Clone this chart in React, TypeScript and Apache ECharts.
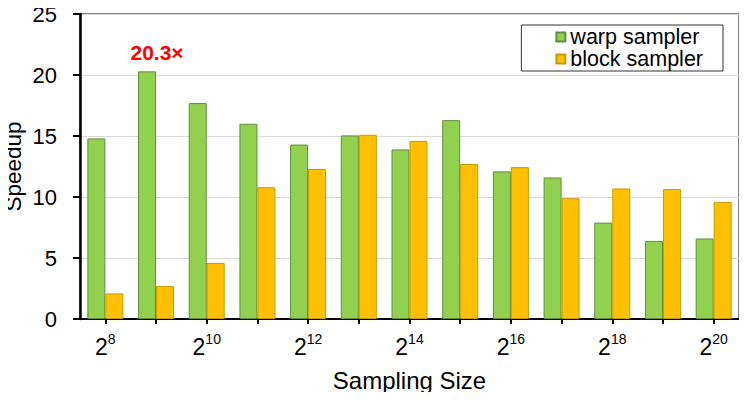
import React, { useEffect, useRef } from "react";
import * as echarts from "echarts";

const exponents = [8, 9, 10, 11, 12, 13, 14, 15, 16, 17, 18, 19, 20];
const categories = exponents.map((e) => `2^${e}`);
const warpSampler = [14.8, 20.3, 17.7, 16.0, 14.3, 15.05, 13.9, 16.3, 12.1, 11.6, 7.9, 6.4, 6.6];
const blockSampler = [2.1, 2.7, 4.6, 10.8, 12.3, 15.1, 14.6, 12.7, 12.45, 9.9, 10.7, 10.65, 9.6];
const yTicks = [0, 5, 10, 15, 20, 25];
const annotationIndex = 1;
const annotationText = "20.3×";

const FONT = "Liberation Sans, Arial, sans-serif";

export default function App() {
  const ref = useRef<HTMLDivElement>(null);
  useEffect(() => {
    if (!ref.current) return;
    const chart = echarts.init(ref.current, null, { renderer: "svg" });
    const warpData = warpSampler.map((v, i) =>
      i === annotationIndex
        ? {
            value: v,
            label: {
              show: true,
              position: "top",
              offset: [10, -3],
              formatter: annotationText,
              color: "#ff0000",
              fontWeight: "bold",
              fontSize: 21,
              fontFamily: FONT,
            },
          }
        : v
    );
    chart.setOption({
      animation: false,
      textStyle: { fontFamily: FONT },
      grid: {
        left: 80,
        right: 8,
        top: 14,
        bottom: 81,
        outerBoundsMode: "none",
        containLabel: false,
        show: true,
        borderColor: "#000",
        borderWidth: 1,
        backgroundColor: "transparent",
      },
      legend: {
        show: true,
        orient: "vertical",
        right: 24,
        top: 25,
        itemWidth: 9,
        itemHeight: 9,
        itemGap: 0,
        padding: [1, 20, 1, 34],
        borderColor: "#333",
        borderWidth: 1,
        backgroundColor: "#fff",
        icon: "rect",
        textStyle: { fontSize: 21.5, color: "#000", fontFamily: FONT },
        data: ["warp sampler", "block sampler"],
      },
      xAxis: {
        type: "category",
        data: categories,
        name: "Sampling Size",
        nameLocation: "middle",
        nameGap: 49,
        nameMoveOverlap: false,
        nameTextStyle: { fontSize: 24, color: "#000", fontFamily: FONT },
        axisLine: { lineStyle: { color: "#000", width: 2 } },
        axisTick: {
          show: true,
          interval: 0,
          alignWithLabel: true,
          length: 5,
          lineStyle: { color: "#000", width: 2 },
        },
        axisLabel: {
          interval: 1,
          margin: 13,
          formatter: (v: string) => {
            const [b, s] = v.split("^");
            return `{b|${b}}{s|${s}}`;
          },
          rich: {
            b: { fontSize: 23, color: "#000", fontFamily: FONT, lineHeight: 26, verticalAlign: "bottom" },
            s: { fontSize: 14, color: "#000", fontFamily: FONT, lineHeight: 26, verticalAlign: "top", padding: [0, 0, 9, 0] },
          },
        },
      },
      yAxis: {
        type: "value",
        min: yTicks[0],
        max: yTicks[yTicks.length - 1],
        interval: 5,
        name: "Speedup",
        nameLocation: "middle",
        nameRotate: 90,
        nameGap: 55,
        nameMoveOverlap: false,
        nameTextStyle: { fontSize: 22.5, color: "#000", fontFamily: FONT },
        axisLine: { show: true, lineStyle: { color: "#000", width: 2.5 } },
        axisTick: { show: true, length: 7, lineStyle: { color: "#000", width: 2 } },
        axisLabel: { fontSize: 22, color: "#000", fontFamily: FONT, margin: 23 },
        splitLine: { lineStyle: { color: "#d9d9d9", width: 1 } },
      },
      series: [
        {
          name: "warp sampler",
          type: "bar",
          data: warpData,
          barGap: "0%",
          barCategoryGap: "29%",
          itemStyle: { color: "#92d050", borderColor: "#5f8f3c", borderWidth: 1 },
        },
        {
          name: "block sampler",
          type: "bar",
          data: blockSampler,
          barGap: "0%",
          barCategoryGap: "29%",
          itemStyle: { color: "#ffc000", borderColor: "#c89a00", borderWidth: 1 },
        },
      ],
    });
    return () => chart.dispose();
  }, []);
  return <div ref={ref} style={{ width: 747, height: 400, margin: -8 }} />;
}
